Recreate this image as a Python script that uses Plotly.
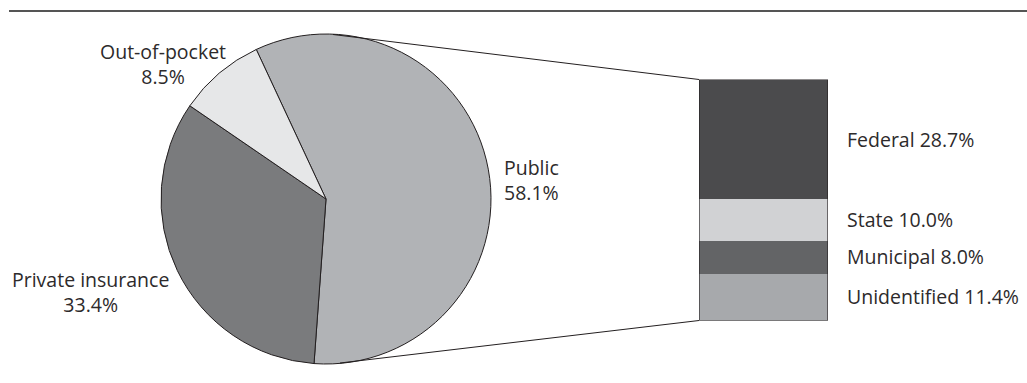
import plotly.graph_objects as go

# Health spending by source of funds (%)
sources = ["Public", "Private insurance", "Out-of-pocket"]
source_shares = [58.1, 33.4, 8.5]
source_colors = ["#b1b3b6", "#7a7b7d", "#e6e7e8"]

# Breakdown of public spending (%), listed top to bottom
public_parts = ["Federal", "State", "Municipal", "Unidentified"]
public_shares = [28.7, 10.0, 8.0, 11.4]
public_colors = ["#4b4b4d", "#d1d2d4", "#636466", "#a7a9ac"]

W, H = 1027, 383
FONT = "Open Sans"
FSIZE = 19.5
TEXT = "#2d2a2b"
EDGE = "#231f20"


def px(x):
    return x / W


def py(y):
    return 1 - y / H


# pie placement (pixels)
cx, cy, r = 326, 199, 165
# bar placement (pixels)
bx0, bx1, by_top, by_bot = 699, 828, 79.5, 320.5

fig = go.Figure()

fig.add_trace(go.Pie(
    labels=sources,
    values=source_shares,
    sort=False,
    direction="clockwise",
    rotation=-25,
    marker=dict(colors=source_colors, line=dict(color=EDGE, width=1)),
    textinfo="none",
    hoverinfo="label+percent",
    domain=dict(x=[px(cx - r), px(cx + r)], y=[py(cy + r), py(cy - r)]),
    showlegend=False,
))

# stacked bar, drawn bottom-up
total = sum(public_shares)
for name, val, col in reversed(list(zip(public_parts, public_shares, public_colors))):
    fig.add_trace(go.Bar(
        x=[0], y=[val], width=1, name=name,
        marker=dict(color=col, line=dict(width=0)),
        xaxis="x", yaxis="y", showlegend=False,
    ))

# outline of the bar
fig.add_shape(type="rect", xref="x", yref="y", x0=-0.5, x1=0.5, y0=0, y1=total,
              line=dict(color=EDGE, width=1.2), fillcolor="rgba(0,0,0,0)")

# bar labels at segment midpoints
top = total
for name, val in zip(public_parts, public_shares):
    mid = top - val / 2
    top -= val
    fig.add_annotation(xref="paper", yref="y", x=px(845), y=mid,
                       text=f"{name} {val:.1f}%", showarrow=False,
                       xanchor="left", yanchor="middle",
                       font=dict(family=FONT, size=FSIZE, color=TEXT))

# connectors from the pie to the bar corners
fig.add_shape(type="line", xref="paper", yref="paper",
              x0=px(333), y0=py(34.5), x1=px(bx0), y1=py(by_top),
              line=dict(color=EDGE, width=1))
fig.add_shape(type="line", xref="paper", yref="paper",
              x0=px(340), y0=py(363), x1=px(bx0), y1=py(by_bot),
              line=dict(color=EDGE, width=1))

# rule across the top
fig.add_shape(type="line", xref="paper", yref="paper",
              x0=px(9), x1=1, y0=py(11), y1=py(11),
              line=dict(color="#555555", width=2))

# pie labels
pie_label_pos = {
    "Public": (502, 180, "left", "left"),
    "Private insurance": (90, 292, "center", "center"),
    "Out-of-pocket": (163, 64, "center", "center"),
}
for name, val in zip(sources, source_shares):
    x, y, xa, al = pie_label_pos[name]
    fig.add_annotation(xref="paper", yref="paper", x=px(x), y=py(y),
                       text=f"{name}<br>{val:.1f}%", showarrow=False,
                       xanchor=xa, yanchor="middle", align=al,
                       font=dict(family=FONT, size=FSIZE, color=TEXT))

fig.update_layout(
    width=W, height=H,
    margin=dict(l=0, r=0, t=0, b=0),
    paper_bgcolor="white", plot_bgcolor="white",
    barmode="stack", bargap=0,
    xaxis=dict(domain=[px(bx0), px(bx1)], range=[-0.5, 0.5], visible=False, fixedrange=True),
    yaxis=dict(domain=[py(by_bot), py(by_top)], range=[0, total], visible=False, fixedrange=True),
)

fig.write_html("out.html")
